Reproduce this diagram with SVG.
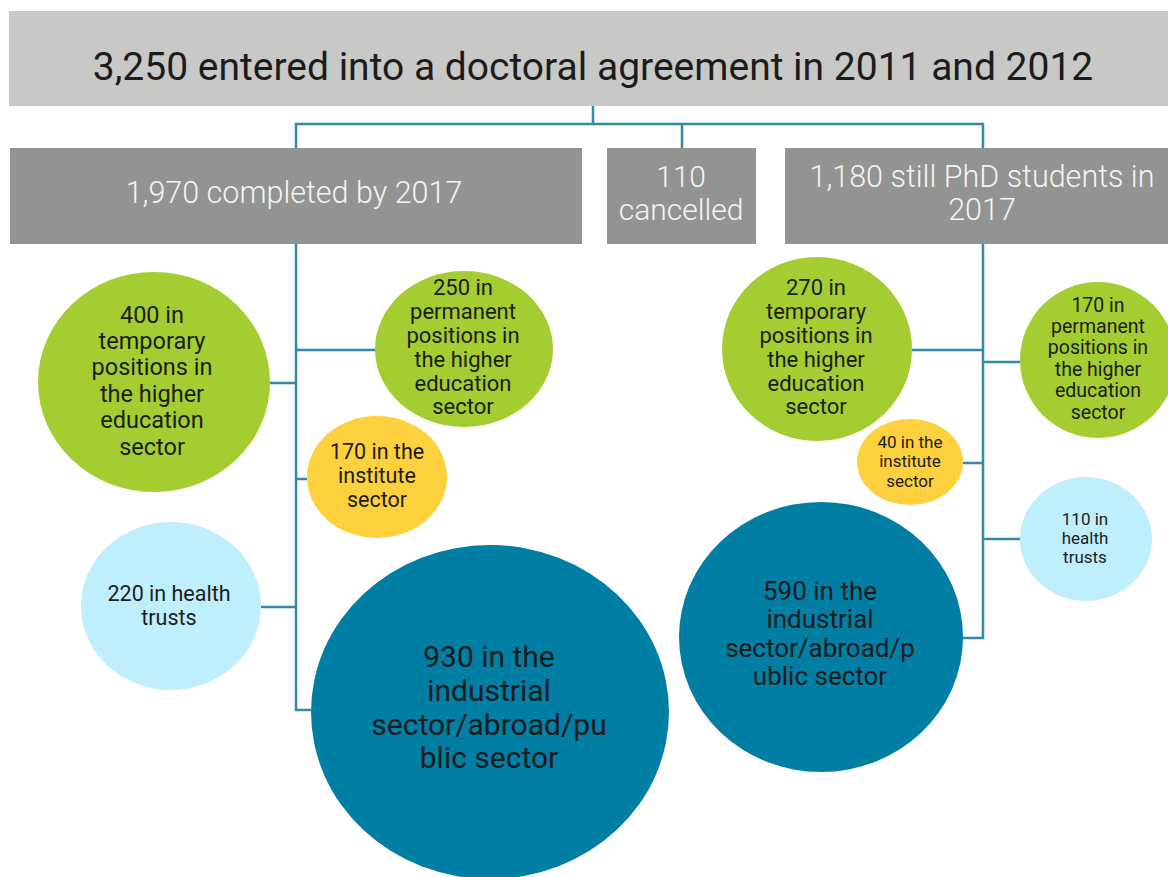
<svg xmlns="http://www.w3.org/2000/svg" width="1168" height="877" viewBox="0 0 1168 877">
<style>
.t{font-family:Roboto,"Liberation Sans",sans-serif;text-anchor:middle}
.dark{fill:#1c1c1c}
.white{fill:#f4f4f4;font-weight:300}
.box{fill:#919491}
.green{fill:#a3cd30}
.yellow{fill:#fdd13e}
.light{fill:#bfeefc}
.teal{fill:#007ea3}
.conn{stroke:#3489a8;stroke-width:2.5;fill:none}
</style>
<rect width="1168" height="877" fill="#ffffff"/>
<g id="connectors" class="conn">
<path d="M593 106V124M296 148V124H983V148M682 124V148"/>
<path d="M296 244V710H311M296 350H376M270 383H296M296 479H307M261 607H296"/>
<path d="M983 244V638H963M912 350H983M983 362H1020M963 463H983M983 539H1020"/>
</g>
<g id="root">
<rect x="9" y="11" width="1159" height="95" fill="#c8c9c6"/>
<text class="t dark" x="593" y="80" font-size="39">3,250 entered into a doctoral agreement in 2011 and 2012</text>
</g>
<g id="completed">
<rect class="box" x="10" y="148" width="572" height="96"/>
<text class="t white" x="294" y="203" font-size="30.5">1,970 completed by 2017</text>
</g>
<g id="cancelled">
<rect class="box" x="607" y="148" width="149" height="96"/>
<text class="t white" x="681" y="187" font-size="30">110</text>
<text class="t white" x="681" y="220" font-size="30">cancelled</text>
</g>
<g id="still">
<rect class="box" x="785" y="148" width="383" height="96"/>
<text class="t white" x="982" y="187" font-size="30.5">1,180 still PhD students in</text>
<text class="t white" x="982" y="220" font-size="30.5">2017</text>
</g>
<g id="c-temp400">
<ellipse class="green" cx="154" cy="382" rx="116" ry="110"/>
<text class="t dark" font-size="23.5"><tspan x="152" y="323">400 in</tspan><tspan x="152" y="349">temporary</tspan><tspan x="152" y="375">positions in</tspan><tspan x="152" y="402">the higher</tspan><tspan x="152" y="428">education</tspan><tspan x="152" y="455">sector</tspan></text>
</g>
<g id="c-perm250">
<ellipse class="green" cx="464" cy="349" rx="89" ry="78"/>
<text class="t dark" font-size="22"><tspan x="463" y="295">250 in</tspan><tspan x="463" y="319">permanent</tspan><tspan x="463" y="343">positions in</tspan><tspan x="463" y="367">the higher</tspan><tspan x="463" y="391">education</tspan><tspan x="463" y="414">sector</tspan></text>
</g>
<g id="c-inst170">
<ellipse class="yellow" cx="377" cy="477" rx="70" ry="61"/>
<text class="t dark" font-size="21.5"><tspan x="377" y="459">170 in the</tspan><tspan x="377" y="483">institute</tspan><tspan x="377" y="507">sector</tspan></text>
</g>
<g id="c-health220">
<ellipse class="light" cx="171" cy="606" rx="90" ry="84"/>
<text class="t dark" font-size="21.5"><tspan x="169" y="601">220 in health</tspan><tspan x="169" y="625">trusts</tspan></text>
</g>
<g id="c-ind930">
<ellipse class="teal" cx="490" cy="712" rx="179" ry="167"/>
<text class="t dark" font-size="30"><tspan x="489" y="667">930 in the</tspan><tspan x="489" y="701">industrial</tspan><tspan x="489" y="735">sector/abroad/pu</tspan><tspan x="489" y="768">blic sector</tspan></text>
</g>
<g id="c-temp270">
<ellipse class="green" cx="817" cy="349" rx="95" ry="92"/>
<text class="t dark" font-size="22"><tspan x="816" y="295">270 in</tspan><tspan x="816" y="319">temporary</tspan><tspan x="816" y="343">positions in</tspan><tspan x="816" y="367">the higher</tspan><tspan x="816" y="391">education</tspan><tspan x="816" y="414">sector</tspan></text>
</g>
<g id="c-perm170">
<ellipse class="green" cx="1098" cy="360" rx="78" ry="78"/>
<text class="t dark" font-size="19.5"><tspan x="1098" y="312">170 in</tspan><tspan x="1098" y="333">permanent</tspan><tspan x="1098" y="354">positions in</tspan><tspan x="1098" y="376">the higher</tspan><tspan x="1098" y="397">education</tspan><tspan x="1098" y="419">sector</tspan></text>
</g>
<g id="c-inst40">
<ellipse class="yellow" cx="910" cy="462" rx="53" ry="43"/>
<text class="t dark" font-size="17"><tspan x="910" y="448">40 in the</tspan><tspan x="910" y="467">institute</tspan><tspan x="910" y="487">sector</tspan></text>
</g>
<g id="c-health110">
<ellipse class="light" cx="1086" cy="539" rx="66" ry="62"/>
<text class="t dark" font-size="17"><tspan x="1085" y="525">110 in</tspan><tspan x="1085" y="544">health</tspan><tspan x="1085" y="563">trusts</tspan></text>
</g>
<g id="c-ind590">
<ellipse class="teal" cx="821" cy="637" rx="142" ry="135"/>
<text class="t dark" font-size="26"><tspan x="820" y="600">590 in the</tspan><tspan x="820" y="628">industrial</tspan><tspan x="820" y="657">sector/abroad/p</tspan><tspan x="820" y="685">ublic sector</tspan></text>
</g>
</svg>
